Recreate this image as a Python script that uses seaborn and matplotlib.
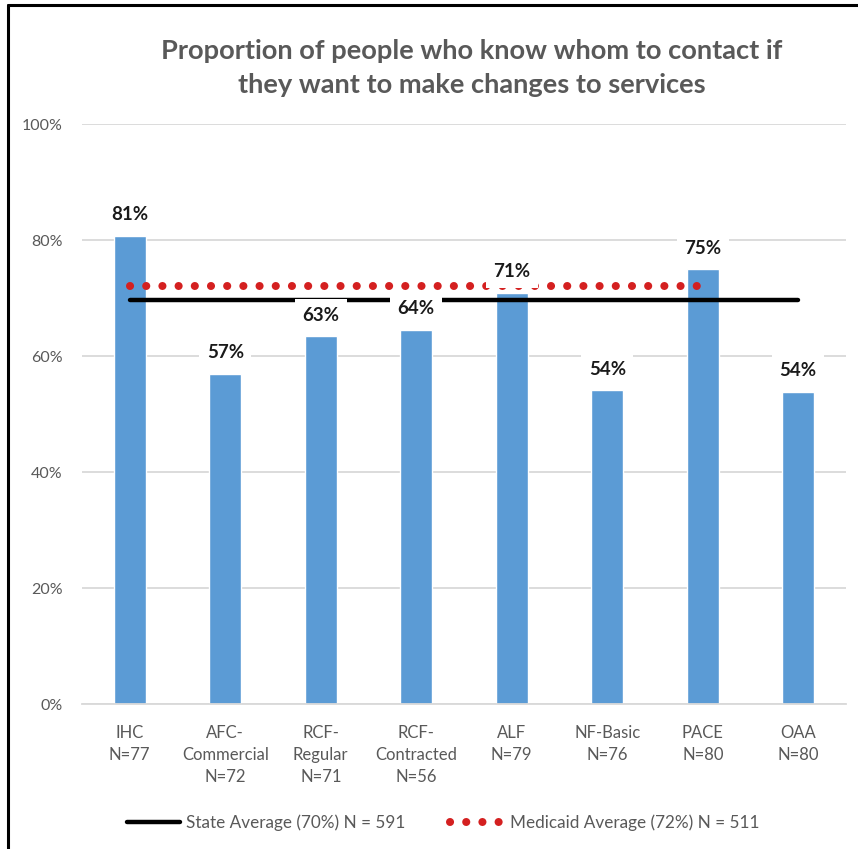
import numpy as np
import pandas as pd
import matplotlib
matplotlib.use("Agg")
import matplotlib.pyplot as plt
from matplotlib.lines import Line2D
import seaborn as sns

# Survey results by residential setting
categories = ["IHC", "AFC-\nCommercial", "RCF-\nRegular", "RCF-\nContracted",
              "ALF", "NF-Basic", "PACE", "OAA"]
sample_sizes = [77, 72, 71, 56, 79, 76, 80, 80]
proportions = [80.7, 56.9, 63.4, 64.5, 70.9, 54.1, 75.0, 53.8]

state_average = 69.7
state_n = 591
medicaid_average = 72.1
medicaid_n = 511
medicaid_settings = ["IHC", "AFC-\nCommercial", "RCF-\nRegular", "RCF-\nContracted",
                     "ALF", "NF-Basic", "PACE"]

title = "Proportion of people who know whom to contact if\nthey want to make changes to services"

BAR_COLOR = "#5B9BD5"
TEXT_GREY = "#595959"
GRID_GREY = "#D9D9D9"
DPI = 100

sns.set_theme(style="white")
plt.rcParams["font.family"] = ["Lato", "DejaVu Sans"]

tick_labels = [f"{c}\nN={n}" for c, n in zip(categories, sample_sizes)]
df = pd.DataFrame({"setting": tick_labels, "pct": proportions})

fig = plt.figure(figsize=(858 / DPI, 849 / DPI), dpi=DPI)
ax = fig.add_axes([82 / 858, 1 - 704 / 849, (846 - 82) / 858, (704 - 124) / 849])

sns.barplot(data=df, x="setting", y="pct", color=BAR_COLOR, width=0.33,
            saturation=1, ax=ax, zorder=2)

positions = np.arange(len(categories))
med_pos = positions[[categories.index(c) for c in medicaid_settings]]

# Average reference lines
ax.plot([positions[0], positions[-1]], [state_average] * 2, color="black",
        lw=3.2, solid_capstyle="round", zorder=3)
ax.plot([med_pos[0], med_pos[-1]], [medicaid_average] * 2, color="#D42020",
        lw=5.8, linestyle=(0, (0.01, 2.0)), dash_capstyle="round", zorder=3)

# Value labels above bars
ax.bar_label(ax.containers[0], labels=[f"{v:.0f}%" for v in proportions],
             padding=9, fontsize=13.5, fontweight="bold", color="#1A1A1A",
             bbox=dict(boxstyle="square,pad=0.4", fc="white", ec="none"),
             zorder=4)

ax.set_ylim(0, 100)
ax.set_xlim(-0.5, len(categories) - 0.5)
ax.set_yticks(np.arange(0, 101, 20))
ax.set_yticklabels([f"{t}%" for t in range(0, 101, 20)])
ax.yaxis.grid(True, color=GRID_GREY, lw=1.3, zorder=0)
ax.set_axisbelow(True)
ax.set_xlabel("")
ax.set_ylabel("")
for side in ["left", "right", "top"]:
    ax.spines[side].set_visible(False)
ax.spines["bottom"].set_color(GRID_GREY)
ax.spines["bottom"].set_linewidth(1.3)
ax.tick_params(axis="both", length=0, colors=TEXT_GREY)
ax.tick_params(axis="y", pad=14, labelsize=11.5)
ax.tick_params(axis="x", pad=15, labelsize=12)
for lbl in ax.get_xticklabels():
    lbl.set_linespacing(1.45)

fig.text(472 / 858, 1 - 68 / 849, title, ha="center", va="center",
         fontsize=19.6, fontweight="bold", color=TEXT_GREY, linespacing=1.52)

handles = [
    Line2D([], [], color="black", lw=3.2),
    Line2D([], [], color="#D42020", lw=5.8, linestyle=(0, (0.01, 2.0)),
           dash_capstyle="round"),
]
labels = [f"State Average ({state_average:.0f}%) N = {state_n}",
          f"Medicaid Average ({medicaid_average:.0f}%) N = {medicaid_n}"]
fig.legend(handles, labels, loc="center", bbox_to_anchor=(443 / 858, 1 - 823 / 849),
           ncol=2, frameon=False, fontsize=12.3, handlelength=3.1,
           handletextpad=0.4, columnspacing=2.6, labelcolor=TEXT_GREY)

# Chart frame
fig.add_artist(Line2D([7.5 / 858, 7.5 / 858], [0, 1 - 4.5 / 849],
                      transform=fig.transFigure, color="black", lw=2.2))
fig.add_artist(Line2D([7.5 / 858, 1], [1 - 4.5 / 849, 1 - 4.5 / 849],
                      transform=fig.transFigure, color="black", lw=2.2))

fig.savefig("out.png", dpi=DPI, facecolor="white")
